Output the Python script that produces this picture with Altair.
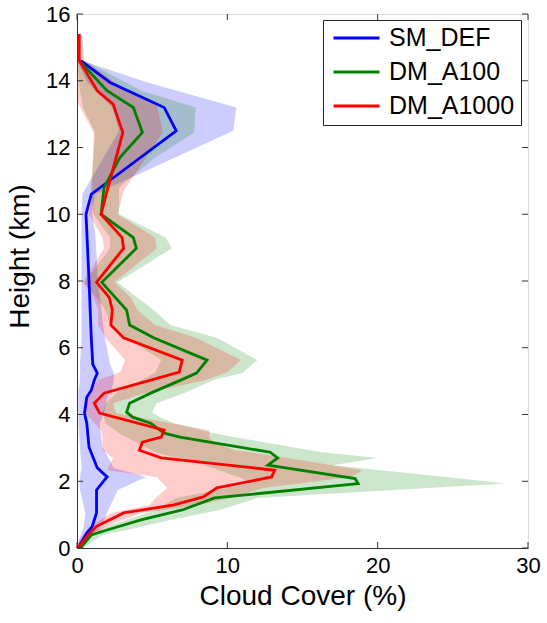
import altair as alt
import pandas as pd

series_names = ["SM_DEF", "DM_A100", "DM_A1000"]
series_colors = ["#0000ff", "#008000", "#ff0000"]

# SM_DEF (blue)
h_sm = [0, 0.1, 0.45, 0.63, 1.05, 1.74, 2.13, 2.4, 3.02, 3.74, 4.04, 4.52, 4.73, 5.03, 5.24, 5.5, 6.3, 8.0, 9.5, 10.0, 10.6, 12.5, 13.2, 13.95, 14.6]
sm_mean = [0.2, 0.2, 0.65, 1.0, 1.3, 1.3, 2.0, 1.35, 0.8, 0.65, 0.5, 0.65, 0.95, 1.15, 1.35, 1.05, 0.95, 0.8, 0.65, 0.6, 0.95, 6.6, 5.8, 2.2, 0.25]
sm_lo = [0, 0, 0.3, 0.45, 0.55, 0.2, 0.2, 0.3, 0.2, 0.1, 0.1, 0.1, 0.1, 0.2, 0.2, 0.2, 0.3, 0.3, 0.3, 0.3, 0.35, 2.8, 2.35, 0.7, 0]
sm_hi = [0.4, 0.55, 1.15, 1.6, 2.0, 2.7, 4.6, 2.45, 1.7, 1.5, 1.8, 2.0, 2.3, 2.45, 2.45, 2.2, 1.85, 1.4, 1.2, 1.0, 1.2, 10.4, 10.6, 4.7, 0.35]

# DM_A100 (green)
h_a100 = [0, 0.15, 0.39, 0.54, 0.84, 1.14, 1.5, 1.93, 2.08, 2.48, 2.7, 2.87, 3.32, 3.44, 3.74, 3.92, 4.07, 4.34, 4.64, 5.03, 5.24, 5.63, 6.3, 6.68, 7.13, 7.96, 8.98, 9.3, 10.0, 10.8, 11.7, 12.45, 13.2, 13.7, 14.6]
a100_mean = [0.2, 0.5, 0.95, 2.0, 4.25, 7.0, 9.15, 18.7, 18.5, 12.7, 13.35, 12.85, 6.85, 5.8, 4.9, 3.7, 3.3, 3.5, 4.9, 6.9, 7.95, 8.65, 5.1, 3.5, 3.3, 1.65, 3.95, 3.75, 1.6, 1.8, 2.85, 4.35, 3.75, 2.0, 0.15]
a100_lo = [0, 0.3, 0.65, 1.1, 3.3, 5.2, 6.6, 11.5, 11.0, 8.5, 6.7, 5.2, 3.3, 2.8, 1.9, 1.8, 1.7, 1.9, 2.6, 4.3, 5.2, 5.6, 3.3, 2.2, 1.9, 0.5, 2.2, 2.2, 1.1, 0.9, 1.1, 1.2, 0.4, 0.2, 0]
a100_hi = [0.4, 0.9, 1.7, 3.3, 6.2, 9.5, 12.0, 28.5, 25.5, 17.0, 20.0, 16.3, 10.5, 9.1, 6.5, 5.5, 5.0, 5.3, 7.1, 9.1, 11.0, 12.0, 9.3, 6.2, 5.1, 2.7, 6.3, 5.9, 2.8, 2.8, 5.2, 7.8, 7.9, 4.3, 0.5]

# DM_A1000 (red)
h_a1000 = [0, 0.1, 0.35, 0.65, 1.05, 1.29, 1.53, 1.8, 2.13, 2.33, 2.7, 2.93, 3.17, 3.32, 3.53, 4.04, 4.34, 4.64, 5.03, 5.27, 5.63, 6.3, 6.68, 7.13, 7.5, 7.96, 8.98, 9.3, 10.0, 10.7, 12.45, 13.3, 13.7, 14.6, 15.4]
a1000_mean = [0, 0.25, 0.65, 1.3, 3.1, 6.45, 8.4, 9.3, 12.95, 13.15, 5.6, 4.15, 4.35, 5.6, 5.8, 1.5, 1.15, 1.8, 4.9, 6.8, 7.0, 3.1, 2.25, 2.35, 2.15, 1.3, 3.1, 3.0, 1.6, 2.0, 3.05, 2.4, 1.35, 0.15, 0.15]
a1000_lo = [0, 0, 0.3, 0.85, 2.3, 4.8, 5.3, 6.0, 5.3, 2.0, 2.4, 1.7, 1.7, 1.7, 1.6, 0.6, 0.6, 0.8, 1.4, 2.9, 3.2, 1.9, 1.4, 1.4, 1.1, 0.4, 1.8, 1.7, 0.8, 1.0, 1.1, 0.1, 0, 0, 0]
a1000_hi = [0.2, 0.5, 1.0, 1.9, 4.3, 8.1, 10.5, 12.4, 18.2, 19.0, 14.0, 10.5, 9.1, 8.8, 8.8, 2.6, 2.4, 4.5, 8.6, 10.0, 10.9, 7.9, 5.2, 4.0, 3.6, 2.5, 5.3, 5.2, 2.7, 3.1, 5.7, 5.3, 3.3, 0.5, 0.3]

x_ticks = [0, 10, 20, 30]
y_ticks = [0, 2, 4, 6, 8, 10, 12, 14, 16]

W, H = 451, 534
FONT = "Liberation Sans"
AXC = "#333333"
LW = 2.8

frames = []
for name, hs, m, lo, hi in [
    ("SM_DEF", h_sm, sm_mean, sm_lo, sm_hi),
    ("DM_A100", h_a100, a100_mean, a100_lo, a100_hi),
    ("DM_A1000", h_a1000, a1000_mean, a1000_lo, a1000_hi),
]:
    frames.append(pd.DataFrame({"series": name, "h": hs, "mean": m, "lo": lo, "hi": hi}))
df = pd.concat(frames, ignore_index=True)

xscale = alt.Scale(domain=[0, 30], nice=False, zero=False)
yscale = alt.Scale(domain=[0, 16], nice=False, zero=False)

xaxis = alt.Axis(values=x_ticks, title="Cloud Cover (%)", grid=False, tickSize=0,
                 labelFontSize=22, labelFont=FONT, labelPadding=7, labelColor="black",
                 titleFontSize=28, titleFont=FONT, titleFontWeight="normal", titleColor="black",
                 titlePadding=6, domainColor=AXC, labelFlush=False)
yaxis = alt.Axis(values=y_ticks, title="Height (km)", grid=False, tickSize=0,
                 labelFontSize=22, labelFont=FONT, labelPadding=7, labelColor="black",
                 titleFontSize=28, titleFont=FONT, titleFontWeight="normal", titleColor="black",
                 titleX=-43, titleY=242, titleAngle=270, titleAlign="center", titleBaseline="bottom",
                 domainColor=AXC, labelFlush=False)

base = alt.Chart(df)

band_layers = []
for name, col in zip(series_names, series_colors):
    band_layers.append(
        base.transform_filter(alt.datum.series == name)
        .mark_area(orient="horizontal", color=col, fillOpacity=0.2)
        .encode(
            y=alt.Y("h:Q", scale=yscale, axis=yaxis),
            x=alt.X("lo:Q", scale=xscale, axis=xaxis),
            x2="hi:Q",
        )
    )

lines = base.mark_line(strokeWidth=LW).encode(
    y=alt.Y("h:Q", scale=yscale, axis=yaxis),
    x=alt.X("mean:Q", scale=xscale, axis=xaxis),
    order=alt.Order("h:Q"),
    color=alt.Color(
        "series:N",
        scale=alt.Scale(domain=series_names, range=series_colors),
        sort=series_names,
        legend=alt.Legend(
            title=None, orient="none", legendX=246, legendY=6,
            symbolType="stroke", symbolSize=2116, symbolStrokeWidth=LW, symbolOffset=3,
            labelFontSize=25, labelFont=FONT, labelColor="black", labelOffset=8,
            clipHeight=24, rowPadding=9, padding=6,
            strokeColor="#222222", fillColor="white", labelLimit=300,
        ),
    ),
)

xt = pd.DataFrame({"v": x_ticks})
yt = pd.DataFrame({"v": y_ticks})
TL = 6
tick_bottom = alt.Chart(xt).mark_rule(color=AXC, strokeWidth=1).encode(
    x=alt.X("v:Q", scale=xscale, axis=xaxis), y=alt.value(H), y2=alt.value(H - TL))
tick_top = alt.Chart(xt).mark_rule(color=AXC, strokeWidth=1).encode(
    x=alt.X("v:Q", scale=xscale, axis=xaxis), y=alt.value(0), y2=alt.value(TL))
tick_left = alt.Chart(yt).mark_rule(color=AXC, strokeWidth=1).encode(
    y=alt.Y("v:Q", scale=yscale, axis=yaxis), x=alt.value(0), x2=alt.value(TL))
tick_right = alt.Chart(yt).mark_rule(color=AXC, strokeWidth=1).encode(
    y=alt.Y("v:Q", scale=yscale, axis=yaxis), x=alt.value(W), x2=alt.value(W - TL))

chart = alt.layer(*band_layers, lines, tick_bottom, tick_top, tick_left, tick_right).properties(
    width=W, height=H,
    autosize=alt.AutoSizeParams(type="none"),
    padding={"left": 77, "top": 14, "right": 19, "bottom": 75},
).configure_view(stroke=AXC, strokeWidth=1).configure(background="white")

chart.save("out.html", embed_options={"renderer": "svg", "actions": False})
